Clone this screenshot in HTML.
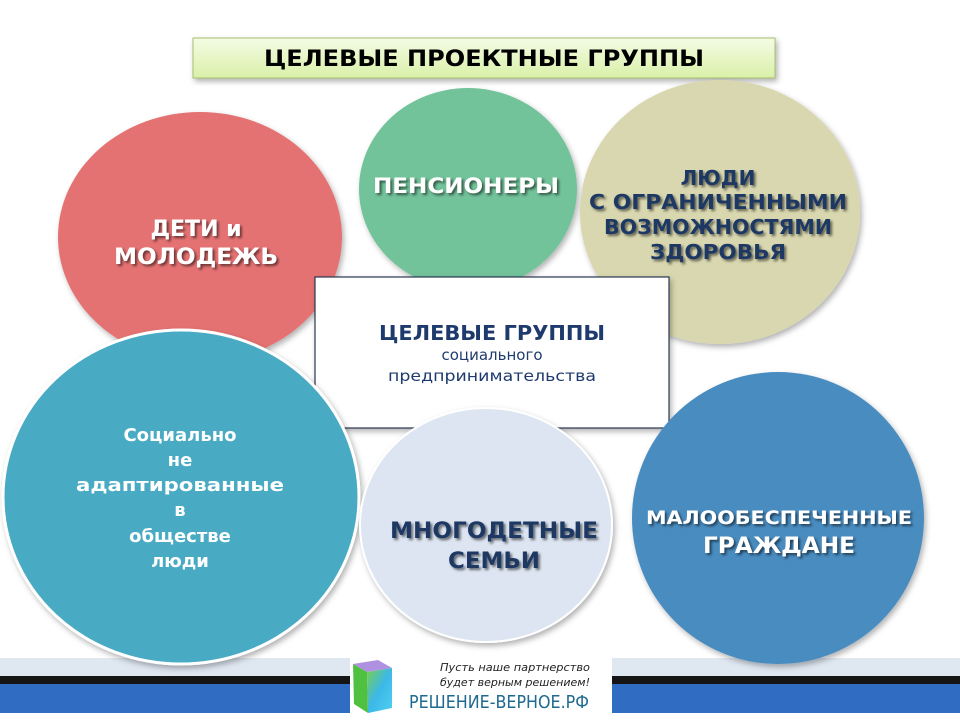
<!DOCTYPE html>
<html><head><meta charset="utf-8"><style>
html,body{margin:0;padding:0;background:#fff;}
svg{display:block;}
text{font-family:"DejaVu Sans","Liberation Sans",sans-serif;font-weight:bold;text-anchor:middle;}
</style></head><body>
<svg width="960" height="720" viewBox="0 0 960 720" xmlns="http://www.w3.org/2000/svg">
<defs>
<linearGradient id="tg" x1="0" y1="0" x2="0" y2="1"><stop offset="0" stop-color="#f4fbe4"/><stop offset="1" stop-color="#d9f0a8"/></linearGradient>
<filter id="sh" x="-20%" y="-20%" width="140%" height="140%"><feDropShadow dx="2" dy="3" stdDeviation="3" flood-color="#000" flood-opacity="0.3"/></filter>
<filter id="ts"><feDropShadow dx="2" dy="2" stdDeviation="1.2" flood-color="#000" flood-opacity="0.55"/></filter>
<linearGradient id="cube" x1="0" y1="0" x2="1" y2="1"><stop offset="0" stop-color="#7ad04a"/><stop offset="0.5" stop-color="#3cb8e8"/><stop offset="1" stop-color="#4fd0f0"/></linearGradient>
</defs>
<rect width="960" height="720" fill="#fff"/>
<!-- bottom bands -->
<rect x="0" y="658" width="960" height="18" fill="#dfe7f1"/>
<rect x="0" y="676" width="960" height="8" fill="#151515"/>
<rect x="0" y="684" width="960" height="29" fill="#306cc2"/>
<!-- title -->
<rect x="193" y="38" width="582" height="40" fill="url(#tg)" stroke="#a8c070" filter="url(#sh)"/>
<text x="484" y="66" font-size="22" fill="#000" textLength="440" lengthAdjust="spacingAndGlyphs">ЦЕЛЕВЫЕ  ПРОЕКТНЫЕ ГРУППЫ</text>
<!-- circles -->
<ellipse cx="200" cy="237" rx="142" ry="125" fill="#e57272" filter="url(#sh)"/>
<ellipse cx="468" cy="189" rx="109" ry="101" fill="#72c29a" filter="url(#sh)"/>
<ellipse cx="720" cy="212" rx="140" ry="132" fill="#d8d7af" filter="url(#sh)"/>
<rect x="315" y="277" width="354" height="151" fill="#fff" stroke="#2a3550" stroke-width="1.2" filter="url(#sh)"/>
<ellipse cx="181" cy="497" rx="178" ry="167" fill="#4aaac4" stroke="#fff" stroke-width="3" filter="url(#sh)"/>
<ellipse cx="486" cy="525" rx="126" ry="117" fill="#dce5f1" stroke="#fff" stroke-width="2" filter="url(#sh)"/>
<ellipse cx="778" cy="518" rx="146" ry="146" fill="#4a8cc0" filter="url(#sh)"/>
<!-- texts -->
<g fill="#fff" filter="url(#ts)">
<text x="196" y="236" font-size="22">ДЕТИ и</text>
<text x="196" y="264" font-size="22" textLength="164" lengthAdjust="spacingAndGlyphs">МОЛОДЕЖЬ</text>
<text x="466" y="193" font-size="21" textLength="186" lengthAdjust="spacingAndGlyphs">ПЕНСИОНЕРЫ</text>
<text x="779" y="524" font-size="19" textLength="266" lengthAdjust="spacingAndGlyphs">МАЛООБЕСПЕЧЕННЫЕ</text>
<text x="779" y="553" font-size="22" textLength="152" lengthAdjust="spacingAndGlyphs">ГРАЖДАНЕ</text>
</g>
<g fill="#1f3764" filter="url(#ts)">
<text x="718" y="185" font-size="20">ЛЮДИ</text>
<text x="718" y="209" font-size="20" textLength="258" lengthAdjust="spacingAndGlyphs">С ОГРАНИЧЕННЫМИ</text>
<text x="718" y="234" font-size="20" textLength="228" lengthAdjust="spacingAndGlyphs">ВОЗМОЖНОСТЯМИ</text>
<text x="718" y="259" font-size="20" textLength="136" lengthAdjust="spacingAndGlyphs">ЗДОРОВЬЯ</text>
<text x="494" y="538" font-size="22" textLength="208" lengthAdjust="spacingAndGlyphs">МНОГОДЕТНЫЕ</text>
<text x="494" y="568" font-size="22" textLength="92" lengthAdjust="spacingAndGlyphs">СЕМЬИ</text>
</g>
<text x="492" y="340" font-size="20" fill="#1f3b6e" textLength="226" lengthAdjust="spacingAndGlyphs">ЦЕЛЕВЫЕ ГРУППЫ</text>
<text x="492" y="360" font-size="15" fill="#1f3b6e" font-weight="normal" style="font-weight:normal">социального</text>
<text x="492" y="381" font-size="15" fill="#1f3b6e" style="font-weight:normal" textLength="208" lengthAdjust="spacingAndGlyphs">предпринимательства</text>
<g fill="#fff">
<text x="180" y="441" font-size="18">Социально</text>
<text x="180" y="466" font-size="18">не</text>
<text x="180" y="491" font-size="18" textLength="208" lengthAdjust="spacingAndGlyphs">адаптированные</text>
<text x="180" y="516" font-size="18">в</text>
<text x="180" y="542" font-size="18">обществе</text>
<text x="180" y="567" font-size="18">люди</text>
</g>
<!-- logo -->
<rect x="350" y="658" width="262" height="55" fill="#fff"/>
<polygon points="353,664 378,660 392,668 367,672" fill="#b090e0"/>
<polygon points="353,664 367,672 368,713 354,704" fill="#50c040"/>
<polygon points="367,672 392,668 392,708 368,713" fill="url(#cube)"/>
<text x="515" y="671" font-size="11" fill="#222" style="font-weight:normal;font-style:italic" textLength="150" lengthAdjust="spacingAndGlyphs">Пусть наше партнерство</text>
<text x="515" y="686" font-size="11" fill="#222" style="font-weight:normal;font-style:italic" textLength="150" lengthAdjust="spacingAndGlyphs">будет верным решением!</text>
<text x="499" y="708" font-size="18" fill="#1f6a90" style="font-weight:normal" textLength="180" lengthAdjust="spacingAndGlyphs">РЕШЕНИЕ-ВЕРНОЕ.РФ</text>
</svg>
</body></html>
